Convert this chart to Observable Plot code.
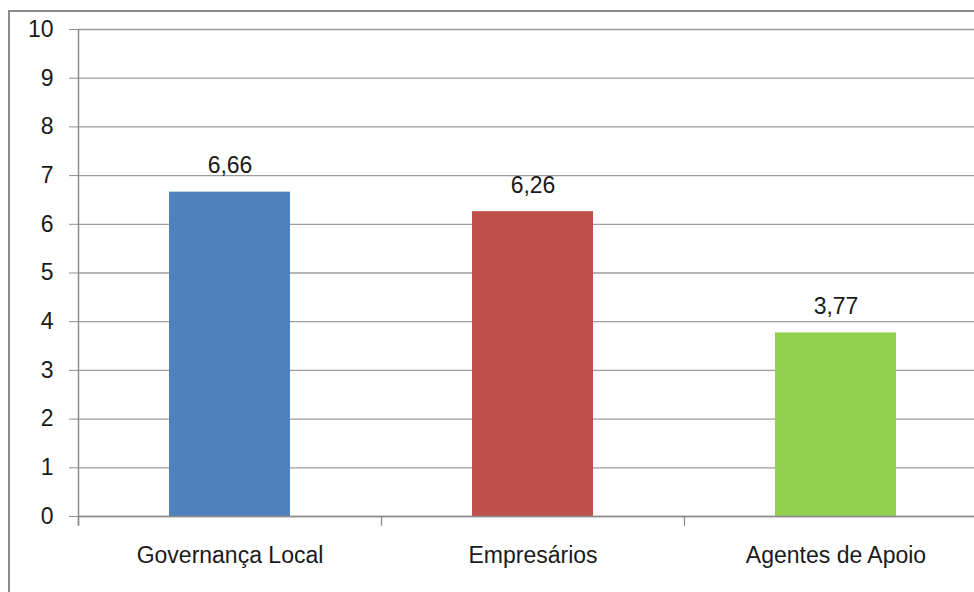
<!DOCTYPE html>
<html>
<head>
<meta charset="utf-8">
<script src="https://cdn.jsdelivr.net/npm/d3@7"></script>
<script src="https://cdn.jsdelivr.net/npm/@observablehq/plot@0.6"></script>
<style>
  html, body { margin: 0; padding: 0; overflow: hidden; background: #fff; width: 974px; height: 592px; }
  #chart { position: absolute; left: 0; top: 0; }
  #chart svg { max-width: none !important; }
  #border { position: absolute; left: 8px; top: 10px; width: 1200px; height: 900px;
            border-left: 2px solid #8c8c8c; border-top: 2px solid #8c8c8c; pointer-events: none; }
</style>
</head>
<body>
<div id="chart"></div>
<div id="border"></div>
<script>
const categories = ["Governança Local", "Empresários", "Agentes de Apoio"];
const values = [6.66, 6.26, 3.77];
const colors = ["#4F81BD", "#C0504D", "#92D050"];
const yTicks = [0, 1, 2, 3, 4, 5, 6, 7, 8, 9, 10];

const data = categories.map((c, i) => ({cat: c, value: values[i], color: colors[i]}));
const fmt = v => v.toFixed(2).replace(".", ",");

const W = 987, H = 592, ML = 78, MT = 29, MB = 76;
const step = (W - ML) / 3;
const font = "Liberation Sans, Arial, sans-serif";

const chart = Plot.plot({
  width: W,
  height: H,
  marginLeft: ML,
  marginRight: 0,
  marginTop: MT,
  marginBottom: MB,
  style: {fontFamily: font, fontSize: "23px", color: "#1a1a1a", background: "transparent"},
  x: {domain: categories, paddingInner: 0.6, paddingOuter: 0.3, axis: null},
  y: {domain: [0, 10], axis: null},
  color: {type: "identity"},
  marks: [
    Plot.gridY(yTicks, {stroke: "#9c9c9c", strokeOpacity: 1, strokeWidth: 1.3}),
    Plot.barY(data, {x: "cat", y: "value", fill: "color"}),
    Plot.ruleY([0], {stroke: "#8c8c8c", strokeWidth: 1.5}),
    Plot.ruleX([categories[0]], {x: d => d, y1: 10, y2: -0.2, dx: -step / 2, stroke: "#8c8c8c", strokeWidth: 1.5}),
    Plot.ruleX(categories, {x: d => d, y1: 0, y2: -0.2, dx: -step / 2, stroke: "#8c8c8c", strokeWidth: 1.3}),
    Plot.axisY(yTicks, {tickSize: 9, tickPadding: 16, stroke: "#8c8c8c", fill: "#1a1a1a", fontSize: 23, label: null, tickFormat: d => String(d)}),
    Plot.axisX({tickSize: 0, tickPadding: 30, fill: "#1a1a1a", fontSize: 23, label: null}),
    Plot.text(data, {x: "cat", y: "value", text: d => fmt(d.value), lineAnchor: "bottom", dy: -19, fill: "#1a1a1a", fontSize: 23})
  ]
});
document.getElementById("chart").appendChild(chart);
</script>
</body>
</html>
